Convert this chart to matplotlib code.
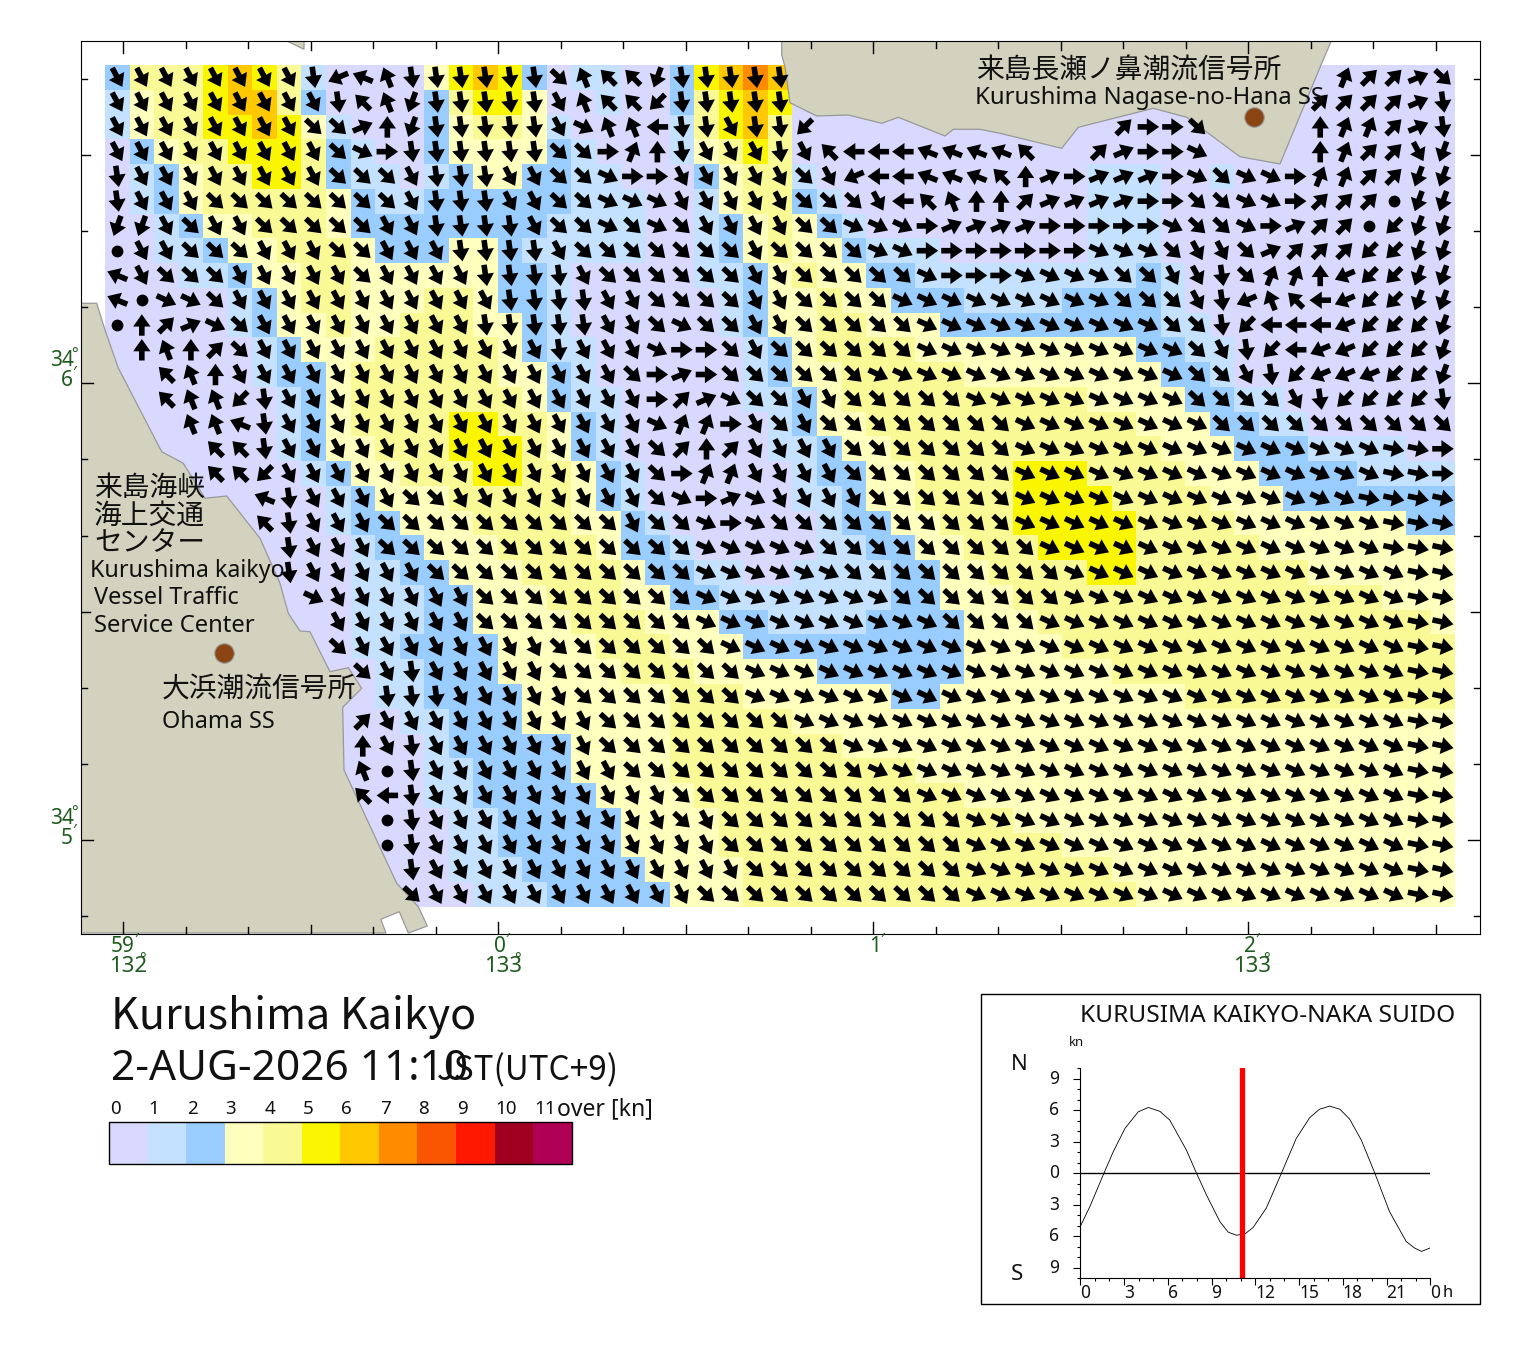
import math

import matplotlib
matplotlib.use("Agg")
import matplotlib.pyplot as plt
from matplotlib.colors import BoundaryNorm, ListedColormap
from matplotlib.patches import Polygon, Rectangle

SANS = ['Noto Sans', 'Noto Sans CJK JP', 'DejaVu Sans']
CJK = ['Noto Sans CJK JP', 'DejaVu Sans']
plt.rcParams['font.family'] = SANS

# speed class of each cell (0 = 0-1 kn, 1 = 1-2 kn ...), north row first
SPEED_ROWS = [
    "24445 65410 00035 65201 10025 67600 00000 00000 00000 00000 00000",
    "13445 66420 00024 55300 10024 56500 00000 00000 00000 00000 00000",
    "13445 56531 00023 44310 00014 56400 00000 00000 00000 00000 00000",
    "02344 55542 10023 33321 00013 45400 00000 00000 00000 00000 00000",
    "01234 45542 11012 33221 10002 34410 00000 00000 11100 10000 00000",
    "01234 44443 21122 22221 11001 34421 00000 00000 11100 00000 00000",
    "00123 34443 22222 22211 11001 23432 10000 00000 11100 00000 00000",
    "00112 33444 32223 32111 11001 23433 21110 00000 11100 00000 00000",
    "00011 23344 33333 32210 00001 12343 32211 11111 11210 00000 00000",
    "00000 12344 33344 32210 00000 12334 33222 11112 22210 00000 00000",
    "00000 12334 33444 33210 00000 12334 43332 22222 22211 00000 00000",
    "00000 01233 34444 43211 00000 01234 44433 33333 33221 10000 00000",
    "00000 01223 44444 43321 00000 01233 44444 33333 33322 10000 00000",
    "00000 00123 44444 44321 10000 01123 44444 44444 33332 21100 00000",
    "00000 00123 44445 54432 10000 00123 34444 44444 44333 22110 00000",
    "00000 00123 34445 55432 10000 00112 33444 44444 44433 32221 11100",
    "00000 00012 33444 55443 21000 00012 23344 44555 44443 33222 21111",
    "00000 00001 23334 44443 21000 00011 23344 44555 54444 33322 22222",
    "00000 00001 22333 44443 32100 00001 22334 44555 55444 43333 33322",
    "00000 00000 12233 34444 32210 00001 12233 44455 55444 44333 33333",
    "00000 00000 11223 33444 43221 10011 11223 34444 55444 44443 33333",
    "00000 00000 11122 33344 43322 11111 11223 33444 44444 44444 44333",
    "00000 00000 11122 33334 44333 22111 12222 33344 44444 44444 44443",
    "00000 00000 11222 23333 44433 32222 22222 33334 44444 44444 44444",
    "00000 00000 01122 23333 34443 33332 22222 33333 34444 44444 44444",
    "00000 00000 01122 22333 33344 43333 33223 33333 33334 44444 44444",
    "00000 00000 00112 22333 33344 44433 33333 33333 33333 33333 33333",
    "00000 00000 00012 22223 33344 44444 33333 33333 33333 33333 33333",
    "00000 00000 00011 22223 33344 44444 44433 33333 33333 33333 33333",
    "00000 00000 00011 22222 33334 44444 44444 33333 33333 33333 33333",
    "00000 00000 00001 12222 23333 44444 44444 44333 33333 33333 33333",
    "00000 00000 00001 12222 23333 44444 44444 44443 33333 33333 33333",
    "00000 00000 00001 11222 22333 34444 44444 44444 43333 33333 33333",
    "00000 00000 00000 11122 22233 34444 44444 44444 44333 33333 33333",
]

# flow direction: key into DIR_DEG, o = slack water, . = no arrow
DIR_ROWS = [
    "77777 7778B DF888 8886F EE988 888.. ..... ..... ..... ..... 12236",
    "77777 77778 EF988 8887F EEA88 888.. ..... ..... ..... ....2 22238",
    "77777 77766 30988 88875 FFC88 788A. ..... ..... .2446 ....0 11238",
    "77777 77776 54888 88866 41087 7787E CCCDD DDE.. 23445 ....0 12279",
    "87777 77776 66788 87766 54477 77767 BCCDD DE034 33345 65541 12299",
    "87776 66666 66788 87766 55577 77766 67CEF 00233 33446 65542 22o99",
    "99767 76666 67788 88766 56567 77766 55543 33344 44456 65432 2oA99",
    "o7766 67776 67778 88876 66666 67666 65544 44444 55567 76322 2AA99",
    "D7666 77777 67777 88887 66666 67766 66654 44555 56677 86110 BAA99",
    "Do556 77777 77777 78888 77666 67766 66555 55555 56667 8BFEC BAA99",
    "o0235 67777 77777 88888 77656 67766 66655 55555 55566 8ACCC BAAA9",
    ".0F02 67777 77777 77787 77544 67666 66655 55555 55556 78ACB BAAA9",
    "..EF0 77777 77777 77777 76434 66666 65555 55555 55556 678AB BBAA9",
    "..EFF A8777 77777 77777 77423 56677 66666 55555 55556 66678 AAAA8",
    "...FF D8777 77777 77777 77511 47676 66666 66555 55555 66666 66666",
    "....E E8777 77777 77777 77620 27777 66666 66555 55555 55555 55rr4",
    "....E EA777 77777 77777 77641 17777 66666 66555 55555 55555 55rr4",
    "..... .D877 77667 77777 77654 35777 76666 66555 55555 55555 5rrrr",
    "..... .E877 76666 66666 67665 45666 66666 66555 55555 55555 55rrr",
    "..... ..877 76666 66666 66665 55556 66666 66655 55555 55555 55rrr",
    "..... ..877 77766 66666 66665 55555 66666 66665 55555 55555 555rr",
    "..... ...57 77777 66666 66665 55555 55666 66665 55555 55555 555rr",
    "..... ....7 77777 66666 66665 55555 55556 66655 55555 55555 555rr",
    "..... ....6 77777 77766 66666 55555 55555 55555 55555 55555 555rr",
    "..... ..... 67877 77766 66666 65555 55555 55555 55555 55555 555rr",
    "..... ..... .8887 77776 66666 65555 55555 55555 55555 55555 555rr",
    "..... ..... 27777 77777 66666 66655 55555 55555 55555 55555 555rr",
    "..... ..... 07877 77777 66666 66666 55555 55555 55555 55555 555rr",
    "..... ..... Fo877 77777 76666 66666 65555 55555 55555 55555 555rr",
    "..... ..... EC877 77777 77766 66666 66655 55555 55555 55555 555rr",
    "..... ..... .o877 77777 77767 66666 66666 55555 55555 55555 555rr",
    "..... ..... .o877 77777 77777 66666 66666 55555 55555 55555 555rr",
    "..... ..... ..877 77777 77777 76666 66666 55555 55555 55555 555rr",
    "..... ..... ..677 77777 77776 66666 66666 55555 55555 55555 555rr",
]
DIR_DEG = {'0': 0, '1': 22, '2': 45, '3': 67, '4': 90, 'r': 102, '5': 115, '6': 133, '7': 152,
           '8': 172, '9': 200, 'A': 225, 'B': 247, 'C': 270, 'D': 292, 'E': 315, 'F': 338}

SPEED_COLORS = ['#D9D9FF', '#C4E2FF', '#99CCFF', '#FFFFBE', '#F9F996', '#FAF500',
                '#FFC800', '#FF8C00', '#FA5500', '#FF1900', '#A00020', '#B00055']
LEGEND_LABELS = ['0', '1', '2', '3', '4', '5', '6', '7', '8', '9', '10', '11']

# coastlines, in picture pixels
LAND_NORTH = [(781.7, 40), (781.7, 55), (785, 66.7), (790, 102.7), (816.7, 116), (848.3, 115),
              (881.7, 123.3), (898.3, 117.3), (945, 136), (953.3, 129.3), (980, 129.3),
              (1000, 133.3), (1061.7, 148.3), (1078.3, 127.3), (1153.3, 108.3), (1186.7, 117.3),
              (1240, 156.7), (1280, 164), (1321.7, 63.3), (1331.7, 40)]
LAND_ROCK = [(285, 40), (304, 49.3), (304, 40)]
LAND_WEST = [(80, 303.3), (96.7, 303.3), (105, 330), (118.3, 368), (161.7, 451.7), (183.3, 463.3),
             (205, 498.3), (226.7, 496), (260, 538.3), (280, 583.3), (288.3, 613.3), (300, 631),
             (310, 631.7), (330, 671.7), (348.3, 667.7), (361.7, 688.3), (342.7, 707.3), (344, 770),
             (396.7, 883.3), (418.3, 906.7), (427.3, 926), (408.3, 933), (399.3, 911.7),
             (380.7, 919.3), (386, 933), (80, 933)]
STATIONS = [(1254, 117), (223.5, 652.5)]

# current at the strait over the day
TIDE_HOURS = [0, 0.66, 1.57, 2.26, 3.06, 3.97, 4.66, 5.46, 6.14, 7.28, 7.97, 8.65, 9.57, 10.14,
              10.7, 11.3, 11.85, 12.76, 13.79, 14.8, 15.73, 16.4, 17.1, 17.8, 18.47, 19.27,
              20.2, 21.2, 22.35, 22.9, 23.4, 24]
TIDE_KNOTS = [-5.06, -3.16, -0.16, 2.06, 4.27, 5.85, 6.27, 5.9, 5.06, 2.2, 0, -2.06, -4.6, -5.6,
              -5.9, -5.76, -5.16, -3.3, 0, 3.3, 5.3, 6.1, 6.4, 6.1, 5.16, 3.16,
              0, -3.64, -6.5, -7.1, -7.44, -7.1]
NOW_HOUR = 11.1

W, H = 1520, 1353
GRID_X0, GRID_DX = 105, 24.55
GRID_Y0, GRID_DY = 65, 24.76

speed = [[int(c) for c in r.replace(' ', '')] for r in SPEED_ROWS]
dirs = [r.replace(' ', '') for r in DIR_ROWS]
n_cols = len(speed[0])
n_rows = len(speed)


def frac_box(x0, y0, x1, y1):
    return [x0 / W, 1 - y1 / H, (x1 - x0) / W, (y1 - y0) / H]


fig = plt.figure(figsize=(W / 100, H / 100), dpi=100)

# the map, scaled in picture pixels
ax = fig.add_axes(frac_box(80.5, 40.5, 1479.5, 933.5))
ax.set_xlim(80.5, 1479.5)
ax.set_ylim(933.5, 40.5)
ax.set_xticks([])
ax.set_yticks([])

x_edges = [GRID_X0 + GRID_DX * i for i in range(n_cols + 1)]
y_edges = [GRID_Y0 + GRID_DY * i for i in range(n_rows + 1)]
cmap = ListedColormap(SPEED_COLORS)
norm = BoundaryNorm(range(13), 12)
ax.pcolormesh(x_edges, y_edges, speed, cmap=cmap, norm=norm, antialiased=False, zorder=1)

for coast in (LAND_NORTH, LAND_ROCK, LAND_WEST):
    ax.add_patch(Polygon(coast, closed=True, facecolor='#D2D2BE', edgecolor='#999999', lw=0.9, zorder=2))

# arrows
xs, ys, us, vs, dot_x, dot_y = [], [], [], [], [], []
for r, row in enumerate(dirs):
    for c, code in enumerate(row):
        cx = GRID_X0 + GRID_DX * (c + 0.5)
        cy = GRID_Y0 + GRID_DY * (r + 0.5)
        if code == 'o':
            dot_x.append(cx)
            dot_y.append(cy)
        elif code != '.':
            a = math.radians(DIR_DEG[code])
            xs.append(cx)
            ys.append(cy)
            us.append(21.5 * math.sin(a))
            vs.append(21.5 * math.cos(a))
ax.quiver(xs, ys, us, vs, angles='uv', units='dots', scale=1, scale_units='dots', width=5.6,
          headwidth=3.1, headlength=2.2, headaxislength=2.2, pivot='mid', color='black', zorder=3)
ax.scatter(dot_x, dot_y, s=72, color='black', linewidths=0, zorder=3)

for sx, sy in STATIONS:
    ax.plot(sx, sy, 'o', ms=14, color='#8B4513', mec='#999999', mew=0.8, zorder=3)

# frame ticks: long at the whole minutes, mid half way, short at the rest
for k in range(22):
    x = 123.3 + 62.5 * k
    ln = 12 if k % 6 == 0 else 9 if k % 3 == 0 else 7
    ax.plot([x, x], [933.5, 933.5 - ln], color='black', lw=1, zorder=4)
    ax.plot([x, x], [40.5, 40.5 + ln], color='black', lw=1, zorder=4)
for k in range(-4, 8):
    y = 383.3 + 76.1 * k
    ln = 12 if k % 6 == 0 else 9 if k % 3 == 0 else 6
    ax.plot([80.5, 80.5 + ln], [y, y], color='black', lw=1, zorder=4)
    ax.plot([1479.5, 1479.5 - ln], [y, y], color='black', lw=1, zorder=4)

# page layer for all text, also in picture pixels
page = fig.add_axes([0, 0, 1, 1], facecolor='none')
page.set_xlim(0, W)
page.set_ylim(H, 0)
page.axis('off')


def put(x, y, s, size, color='#111111', ha='left', family=None):
    page.text(x, y, s, fontsize=size, color=color, ha=ha, va='center', family=family or SANS)


GREEN = '#1F5C1F'
for x, mins in ((123, '59'), (500, '0'), (875, '1'), (1250, '2')):
    put(x, 947, mins, 15, GREEN, 'center')
    put(x + (13 if len(mins) > 1 else 7), 941, '′', 12, GREEN, 'center')
for x, deg in ((128, '132'), (503, '133'), (1252, '133')):
    put(x, 966, deg, 16, GREEN, 'center')
    put(x + 14, 960, '°', 11, GREEN, 'center')
for y, minute in ((361, '6'), (819, '5')):
    put(62, y, '34', 15, GREEN, 'center')
    put(74, y - 6, '°', 11, GREEN, 'center')
    put(67, y + 19, minute, 15, GREEN, 'center')
    put(74, y + 13, '′', 12, GREEN, 'center')

put(976, 71, '来島長瀬ノ鼻潮流信号所', 20, family=CJK)
put(975, 98, 'Kurushima Nagase-no-Hana SS', 17.2)
put(94, 488, '来島海峡', 20, family=CJK)
put(94, 516, '海上交通', 20, family=CJK)
put(94, 543, 'センター', 20, family=CJK)
put(90, 571, 'Kurushima kaikyo', 16.7)
put(94, 598, 'Vessel Traffic', 16.9)
put(94, 626, 'Service Center', 17.2)
put(162, 689, '大浜潮流信号所', 20, family=CJK)
put(162, 722, 'Ohama SS', 16.9)

put(111, 1017, 'Kurushima Kaikyo', 31, family=CJK)
put(111, 1069, '2-AUG-2026 11:10', 30.5)
put(437, 1071, 'JST(UTC+9)', 24, family=CJK)

# legend bar
bar_w = 38.55
for i, col in enumerate(SPEED_COLORS):
    page.add_patch(Rectangle((109 + bar_w * i, 1122), bar_w, 42, facecolor=col, edgecolor='none'))
    put(110 + bar_w * i, 1109, LEGEND_LABELS[i], 13.5)
page.add_patch(Rectangle((109, 1122), bar_w * 12, 42, facecolor='none', edgecolor='black', lw=1))
put(557, 1109, 'over [kn]', 16.5)

# tide panel
page.add_patch(Rectangle((980.5, 993.5), 499, 310, facecolor='none', edgecolor='black', lw=1))
put(1080, 1016, 'KURUSIMA KAIKYO-NAKA SUIDO', 17.6)
put(1069, 1042, 'kn', 9.5)
put(1011, 1065, 'N', 16)
put(1011, 1275, 'S', 16)

tx = fig.add_axes(frac_box(1080.3, 1068.3, 1430.3, 1278.3), facecolor='none')
tx.set_xlim(0, 24)
tx.set_ylim(-10, 10)
for side in ('top', 'right'):
    tx.spines[side].set_visible(False)
tx.plot(TIDE_HOURS, TIDE_KNOTS, color='black', lw=0.6)
tx.axhline(0, color='black', lw=1)
tx.axvline(NOW_HOUR, color='#FF0000', lw=3.8)
tx.set_xticks(range(0, 25, 3))
tx.set_xticks(range(0, 25), minor=True)
tx.set_yticks([-9, -6, -3, 0, 3, 6, 9])
tx.set_yticks(range(-10, 11), minor=True)
tx.tick_params(axis='both', which='major', length=5, width=0.8, labelbottom=False, labelleft=False)
tx.tick_params(axis='both', which='minor', length=2.5, width=0.8)

for h, lab in zip(range(0, 25, 3), ['0', '3', '6', '9', '12', '15', '18', '21', '0']):
    put(1080.3 + h * 350 / 24, 1293, lab, 12.5)
put(1443, 1293, 'h', 12)
for k, lab in zip([9, 6, 3, 0, -3, -6, -9], ['9', '6', '3', '0', '3', '6', '9']):
    put(1054, 1173.3 - k * 10.5, lab, 12.5, ha='center')

fig.savefig('out.png', dpi=100)
